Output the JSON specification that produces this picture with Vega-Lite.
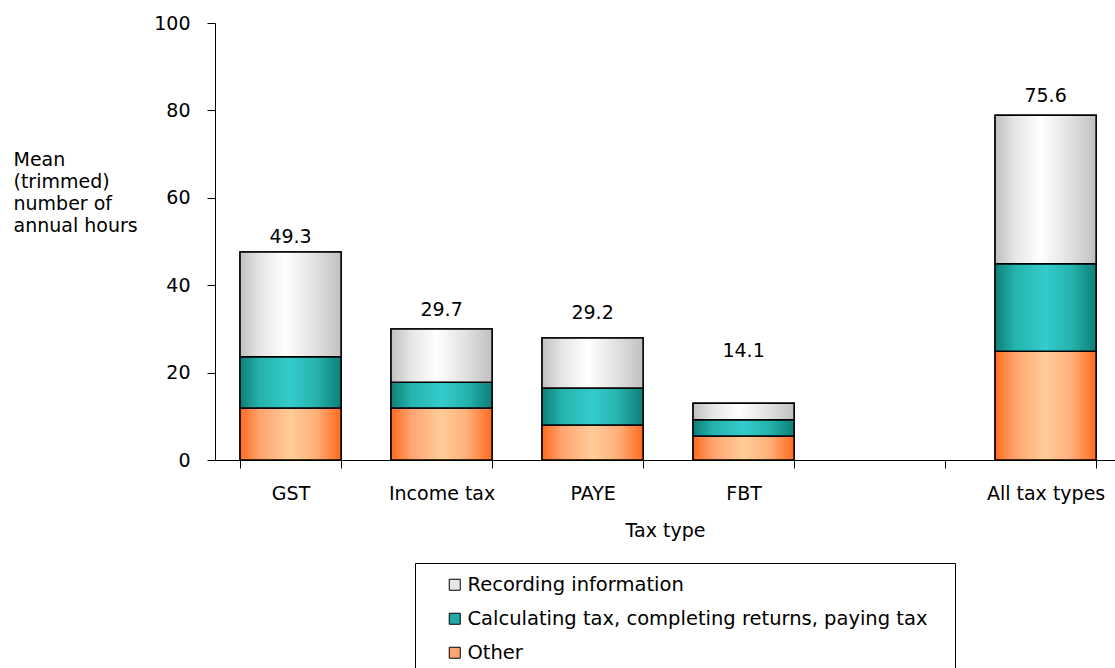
{
  "$schema": "https://vega.github.io/schema/vega-lite/v6.json",
  "width": 900,
  "height": 437,
  "autosize": {"type": "none"},
  "padding": {"left": 215, "top": 23, "right": 0, "bottom": 208},
  "background": "white",
  "config": {
    "font": "DejaVu Sans",
    "view": {"stroke": null},
    "axis": {"labelFont": "DejaVu Sans", "titleFont": "DejaVu Sans", "labelFontSize": 19, "titleFontSize": 19, "labelColor": "black", "titleColor": "black", "domainColor": "black", "tickColor": "black", "titleFontWeight": "normal", "grid": false, "domainWidth": 1, "tickWidth": 1, "tickSize": 8},
    "legend": {"labelFont": "DejaVu Sans", "labelFontSize": 19.5, "labelColor": "black"}
  },
  "layer": [
    {
      "data": {
        "values": [
          {"cat": "GST", "series": "Other", "value": 11.9, "order": 1},
          {"cat": "GST", "series": "Calculating tax, completing returns, paying tax", "value": 11.7, "order": 2},
          {"cat": "GST", "series": "Recording information", "value": 24.0, "order": 3},
          {"cat": "Income tax", "series": "Other", "value": 11.9, "order": 1},
          {"cat": "Income tax", "series": "Calculating tax, completing returns, paying tax", "value": 5.9, "order": 2},
          {"cat": "Income tax", "series": "Recording information", "value": 12.2, "order": 3},
          {"cat": "PAYE", "series": "Other", "value": 8.0, "order": 1},
          {"cat": "PAYE", "series": "Calculating tax, completing returns, paying tax", "value": 8.5, "order": 2},
          {"cat": "PAYE", "series": "Recording information", "value": 11.4, "order": 3},
          {"cat": "FBT", "series": "Other", "value": 5.5, "order": 1},
          {"cat": "FBT", "series": "Calculating tax, completing returns, paying tax", "value": 3.7, "order": 2},
          {"cat": "FBT", "series": "Recording information", "value": 3.8, "order": 3},
          {"cat": "All tax types", "series": "Other", "value": 24.9, "order": 1},
          {"cat": "All tax types", "series": "Calculating tax, completing returns, paying tax", "value": 20.0, "order": 2},
          {"cat": "All tax types", "series": "Recording information", "value": 34.0, "order": 3}
        ]
      },
      "transform": [
        {"stack": "value", "groupby": ["cat"], "sort": [{"field": "order", "order": "ascending"}], "as": ["y0", "y1"]}
      ],
      "encoding": {
        "x": {
          "field": "cat", "type": "nominal",
          "scale": {"domain": ["GST", "Income tax", "PAYE", "FBT", " ", "All tax types"], "paddingInner": 0.331, "paddingOuter": 0.1455, "align": 0.57},
          "axis": {"title": "Tax type", "labelAngle": 0, "tickBand": "extent", "labelPadding": 16, "titlePadding": 18}
        },
        "y": {
          "field": "y1", "type": "quantitative",
          "scale": {"domain": [0, 100], "nice": false},
          "axis": {"values": [0, 20, 40, 60, 80, 100], "labelPadding": 17, "title": ["Mean", "(trimmed)", "number of", "annual hours"], "titleAngle": 0, "titleAlign": "left", "titleBaseline": "top", "titleX": -202, "titleY": 127, "titleLineHeight": 22}
        },
        "y2": {"field": "y0"}
      },
      "layer": [
        {
          "mark": {"type": "bar", "stroke": "black", "strokeWidth": 1.5},
          "encoding": {
            "color": {
              "field": "series", "type": "nominal",
              "scale": {"domain": ["Recording information", "Calculating tax, completing returns, paying tax", "Other"], "range": ["#e6e6e6", "#22a9a6", "#ffa470"]},
              "legend": {"title": "\u00a0", "titleOrient": "right", "titlePadding": 16, "titleFontSize": 19, "orient": "none", "legendX": 200, "legendY": 540, "strokeColor": "black", "fillColor": "white", "padding": 12, "symbolType": "square", "symbolSize": 121, "symbolStrokeColor": "black", "symbolStrokeWidth": 1, "symbolOffset": 18, "labelOffset": 3, "rowPadding": 13, "labelLimit": 600}
            }
          }
        },
        {
          "transform": [{"filter": "datum.series === 'Other'"}],
          "mark": {"type": "bar", "stroke": "black", "strokeWidth": 1.5, "fill": {"gradient": "linear", "x1": 0, "y1": 0, "x2": 1, "y2": 0, "stops": [{"offset": 0, "color": "#ff6a20"}, {"offset": 0.2, "color": "#ffa470"}, {"offset": 0.5, "color": "#ffcc99"}, {"offset": 0.75, "color": "#ffb07a"}, {"offset": 1, "color": "#ff6a20"}]}}
        },
        {
          "transform": [{"filter": "datum.series === 'Calculating tax, completing returns, paying tax'"}],
          "mark": {"type": "bar", "stroke": "black", "strokeWidth": 1.5, "fill": {"gradient": "linear", "x1": 0, "y1": 0, "x2": 1, "y2": 0, "stops": [{"offset": 0, "color": "#0e7f78"}, {"offset": 0.2, "color": "#26b3ae"}, {"offset": 0.5, "color": "#33cccc"}, {"offset": 0.75, "color": "#26b3ae"}, {"offset": 1, "color": "#0e7f78"}]}}
        },
        {
          "transform": [{"filter": "datum.series === 'Recording information'"}],
          "mark": {"type": "bar", "stroke": "black", "strokeWidth": 1.5, "fill": {"gradient": "linear", "x1": 0, "y1": 0, "x2": 1, "y2": 0, "stops": [{"offset": 0, "color": "#c0c0c0"}, {"offset": 0.2, "color": "#e6e6e6"}, {"offset": 0.45, "color": "#ffffff"}, {"offset": 0.75, "color": "#e0e0e0"}, {"offset": 1, "color": "#c0c0c0"}]}}
        }
      ]
    },
    {
      "data": {
        "values": [
          {"cat": "GST", "total": "49.3", "labelY": 51.0},
          {"cat": "Income tax", "total": "29.7", "labelY": 34.3},
          {"cat": "PAYE", "total": "29.2", "labelY": 33.6},
          {"cat": "FBT", "total": "14.1", "labelY": 24.9},
          {"cat": "All tax types", "total": "75.6", "labelY": 83.3}
        ]
      },
      "mark": {"type": "text", "fontSize": 19, "font": "DejaVu Sans", "color": "black", "baseline": "middle"},
      "encoding": {
        "x": {"field": "cat", "type": "nominal"},
        "y": {"field": "labelY", "type": "quantitative"},
        "text": {"field": "total"}
      }
    }
  ]
}
